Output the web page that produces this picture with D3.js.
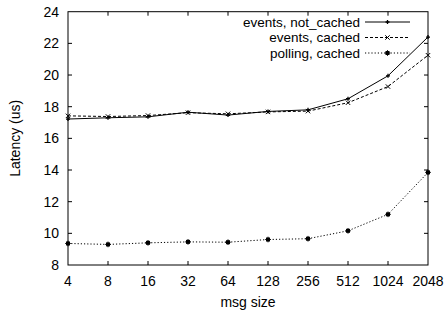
<!DOCTYPE html>
<html><head><meta charset="utf-8">
<script src="https://cdn.jsdelivr.net/npm/d3@7"></script>
<style>body{margin:0;background:#fff}svg{display:block}text{font-family:"Liberation Sans",Arial,sans-serif;fill:#000}</style>
</head><body><svg id="c" width="448" height="314"></svg>
<script>
const categories = ["4","8","16","32","64","128","256","512","1024","2048"];
const eventsNotCached = [17.22,17.3,17.36,17.65,17.47,17.7,17.8,18.5,19.95,22.4];
const eventsCached = [17.42,17.38,17.44,17.62,17.55,17.67,17.72,18.25,19.27,21.25];
const pollingCached = [9.36,9.3,9.4,9.46,9.44,9.61,9.66,10.16,11.2,13.85];
const yTicks = [8,10,12,14,16,18,20,22,24];
const seriesNames = ["events, not_cached","events, cached","polling, cached"];

const svg = d3.select("#c");
const L=68,R=428,T=11.7,B=265;
const x = d3.scalePoint().domain(categories).range([L,R]);
const y = d3.scaleLinear().domain([8,24]).range([B,T]);
const fs = 14;

const g = svg.append("g");
yTicks.forEach(v=>{
  if(v===8||v===24) return;
  g.append("line").attr("x1",L).attr("x2",L+4).attr("y1",y(v)).attr("y2",y(v)).attr("stroke","#000");
  g.append("line").attr("x1",R).attr("x2",R-4).attr("y1",y(v)).attr("y2",y(v)).attr("stroke","#000");
});
yTicks.forEach(v=>{
  g.append("text").attr("x",L-9).attr("y",y(v)).attr("dy","0.35em").attr("text-anchor","end").attr("font-size",fs).text(v);
});
categories.forEach((c,i)=>{
  if(i>0 && i<categories.length-1){
    g.append("line").attr("x1",x(c)).attr("x2",x(c)).attr("y1",B).attr("y2",B-4).attr("stroke","#000");
    g.append("line").attr("x1",x(c)).attr("x2",x(c)).attr("y1",T).attr("y2",T+4).attr("stroke","#000");
  }
  g.append("text").attr("x",x(c)).attr("y",B+16).attr("dy","0.35em").attr("text-anchor","middle").attr("font-size",fs).text(c);
});
g.append("rect").attr("x",L).attr("y",T).attr("width",R-L).attr("height",B-T).attr("fill","none").attr("stroke","#000").attr("stroke-width",1);

g.append("text").attr("transform",`translate(15,${(T+B)/2}) rotate(-90)`).attr("text-anchor","middle").attr("dy","0.35em").attr("font-size",fs).text("Latency (us)");
g.append("text").attr("x",(L+R)/2).attr("y",302).attr("text-anchor","middle").attr("dy","0.35em").attr("font-size",fs).text("msg size");

const dashes = [null,"3,2","1.2,2"];
const data = [eventsNotCached,eventsCached,pollingCached];
function marker(sel,type,px,py){
  if(type===0){
    sel.append("path").attr("d",`M${px-2},${py}H${px+2}M${px},${py-2}V${py+2}`).attr("stroke","#000").attr("stroke-width",1.3);
  } else if(type===1){
    sel.append("path").attr("d",`M${px-2.2},${py-2.2}L${px+2.2},${py+2.2}M${px-2.2},${py+2.2}L${px+2.2},${py-2.2}`).attr("stroke","#000").attr("stroke-width",1);
  } else {
    sel.append("rect").attr("x",px-2).attr("y",py-2).attr("width",4).attr("height",4).attr("fill","#000");
    sel.append("path").attr("d",`M${px-2.8},${py}H${px+2.8}M${px},${py-2.8}V${py+2.8}`).attr("stroke","#000").attr("stroke-width",1);
  }
}
const line = d3.line().x((d,i)=>x(categories[i])).y(d=>y(d));
data.forEach((s,k)=>{
  const p = svg.append("path").datum(s).attr("d",line).attr("fill","none").attr("stroke","#000").attr("stroke-width",1);
  if(dashes[k]) p.attr("stroke-dasharray",dashes[k]);
  s.forEach((v,i)=>marker(svg,k,x(categories[i]),y(v)));
});
const ly=[22,37.5,53];
seriesNames.forEach((n,k)=>{
  svg.append("text").attr("x",360).attr("y",ly[k]).attr("dy","0.35em").attr("text-anchor","end").attr("font-size",13.5).text(n);
  const p=svg.append("line").attr("x1",365).attr("x2",410).attr("y1",ly[k]).attr("y2",ly[k]).attr("stroke","#000");
  if(dashes[k]) p.attr("stroke-dasharray",dashes[k]);
  marker(svg,k,387.5,ly[k]);
});
</script></body></html>
